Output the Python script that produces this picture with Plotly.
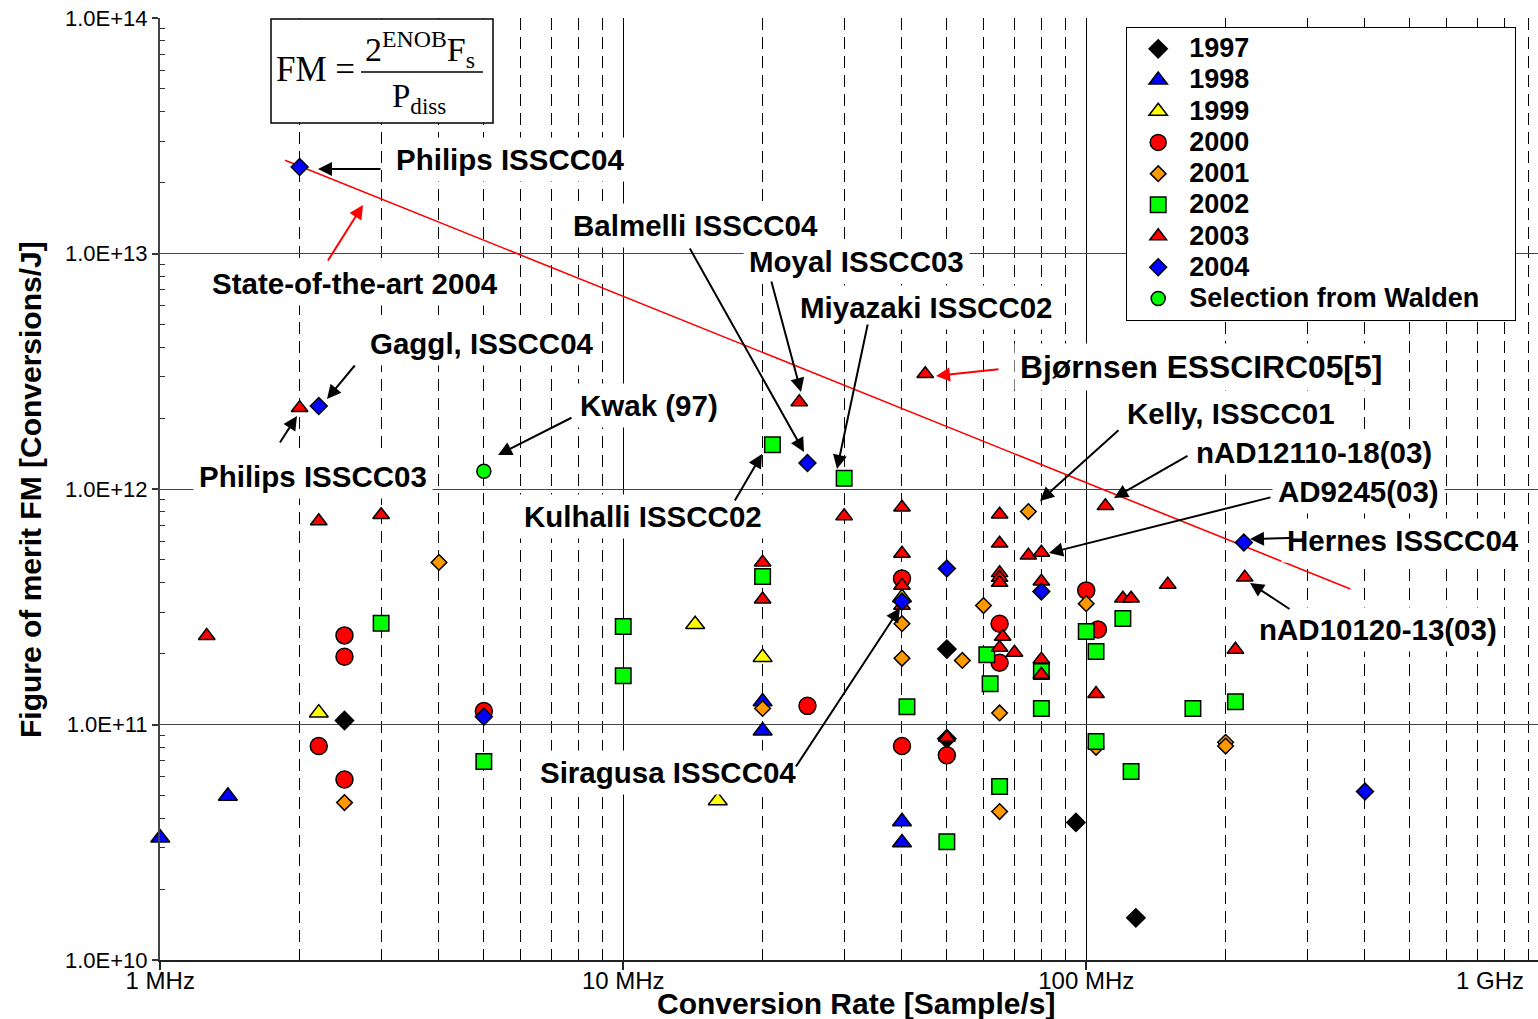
import plotly.graph_objects as go

# ------------------------------------------------------------------ data
# Conversion rate [Sample/s] and figure of merit FM [Conversions/J]
y1997_x = [2.5e6, 5.0e7, 5.0e7, 9.5e7, 1.28e8]
y1997_y = [1.04e11, 2.09e11, 8.7e10, 3.84e10, 1.51e10]

y1998_x = [1.0e6, 1.4e6, 2.0e7, 2.0e7, 4.0e7, 4.0e7]
y1998_y = [3.3e10, 4.97e10, 1.25e11, 9.4e10, 3.87e10, 3.15e10]

y1999_x = [2.2e6, 1.43e7, 1.6e7, 2.0e7, 4.0e7]
y1999_y = [1.12e11, 2.66e11, 4.75e10, 1.93e11, 3.46e11]

y2000_x = [2.2e6, 2.5e6, 2.5e6, 2.5e6, 5.0e6, 2.5e7, 4.0e7, 4.0e7, 5.0e7,
           6.5e7, 6.5e7, 1.0e8, 1.06e8]
y2000_y = [8.1e10, 2.39e11, 1.94e11, 5.84e10, 1.14e11, 1.2e11, 4.17e11, 8.1e10,
           7.4e10, 2.68e11, 1.83e11, 3.71e11, 2.53e11]

y2001_x = [2.5e6, 4.0e6, 2.0e7, 4.0e7, 4.0e7, 5.4e7, 6.0e7, 6.5e7, 6.5e7,
           7.5e7, 1.0e8, 1.05e8, 2.0e8, 2.0e8]
y2001_y = [4.66e10, 4.88e11, 1.17e11, 2.68e11, 1.91e11, 1.87e11, 3.2e11, 1.12e11,
           4.27e10, 8.02e11, 3.26e11, 8.0e10, 8.4e10, 8.1e10]

y2002_x = [3.0e6, 5.0e6, 1.0e7, 1.0e7, 2.0e7, 2.1e7, 3.0e7, 4.1e7, 5.0e7, 6.1e7,
           6.2e7, 6.5e7, 8.0e7, 8.0e7, 1.0e8, 1.05e8, 1.05e8, 1.2e8, 1.25e8,
           1.7e8, 2.1e8]
y2002_y = [2.69e11, 6.97e10, 2.61e11, 1.61e11, 4.25e11, 1.54e12, 1.11e12, 1.19e11,
           3.18e10, 1.98e11, 1.49e11, 5.45e10, 1.68e11, 1.17e11, 2.48e11, 2.04e11,
           8.47e10, 2.82e11, 6.31e10, 1.17e11, 1.25e11]

y2003_x = [1.26e6, 2.0e6, 2.2e6, 3.0e6, 2.0e7, 2.0e7, 2.4e7, 3.0e7, 4.0e7, 4.0e7,
           4.0e7, 4.0e7, 4.49e7, 5.0e7, 6.5e7, 6.5e7, 6.5e7, 6.5e7, 6.5e7, 6.6e7,
           6.5e7, 7.0e7, 7.5e7, 8.0e7, 8.0e7, 8.0e7, 8.0e7, 1.05e8, 1.1e8, 1.2e8,
           1.25e8, 1.5e8, 2.1e8, 2.2e8]
y2003_y = [2.38e11, 2.21e12, 7.31e11, 7.76e11, 4.88e11, 3.40e11, 2.34e12, 7.68e11,
           8.35e11, 5.32e11, 3.89e11, 3.2e11, 3.08e12, 8.8e10, 7.8e11, 5.87e11,
           4.4e11, 4.2e11, 4.0e11, 2.36e11, 2.12e11, 2.02e11, 5.22e11, 5.37e11,
           4.05e11, 1.89e11, 1.63e11, 1.35e11, 8.47e11, 3.43e11, 3.43e11, 3.93e11,
           2.08e11, 4.21e11]

y2004_x = [2.0e6, 2.2e6, 5.0e6, 2.5e7, 4.0e7, 5.0e7, 8.0e7, 2.19e8, 4.0e8]
y2004_y = [2.33e13, 2.25e12, 1.08e11, 1.29e12, 3.33e11, 4.6e11, 3.67e11, 5.93e11, 5.19e10]

walden_x = [5.0e6]
walden_y = [1.19e12]

sota_x = [1.86e6, 3.72e8]
sota_y = [2.49e13, 3.76e11]

x_tick_vals = [1e6, 1e7, 1e8]
x_tick_text = ["1 MHz", "10 MHz", "100 MHz"]
y_tick_vals = [1e10, 1e11, 1e12, 1e13, 1e14]
y_tick_text = ["1.0E+10", "1.0E+11", "1.0E+12", "1.0E+13", "1.0E+14"]

# ------------------------------------------------------------------ layout helpers
W, H = 1538, 1019
ML, MR, MT, MB = 160, 0, 18, 59
PW, PH = W - ML - MR, H - MT - MB
DECADE_PX = 463.0


def PX(px):
    return (px - ML) / PW


def PY(py):
    return (H - MB - py) / PH


FONT = "Liberation Sans, Arial, sans-serif"
SERIF = "Liberation Serif, Times New Roman, serif"

series = [
    ("1997", y1997_x, y1997_y, "diamond", 14, "#000000"),
    ("1998", y1998_x, y1998_y, "triangle-up", 16.5, "#0000FF"),
    ("1999", y1999_x, y1999_y, "triangle-up", 16.5, "#FFFF00"),
    ("2000", y2000_x, y2000_y, "circle", 17, "#FF0000"),
    ("2001", y2001_x, y2001_y, "diamond", 12, "#FF9900"),
    ("2002", y2002_x, y2002_y, "square", 15.5, "#00FF00"),
    ("2003", y2003_x, y2003_y, "triangle-up", 14.5, "#FF0000"),
    ("2004", y2004_x, y2004_y, "diamond", 13, "#0000FF"),
    ("Selection from Walden", walden_x, walden_y, "circle", 14, "#00FF00"),
]

fig = go.Figure()

fig.add_trace(go.Scatter(
    x=sota_x, y=sota_y, mode="lines", line=dict(color="#FF0000", width=1.6),
    showlegend=False, hoverinfo="skip"))

NBSP = "\u00a0"
for name, xs, ys, sym, size, col in series:
    label = name + (NBSP * 4 if name.startswith("Selection") else "")
    fig.add_trace(go.Scatter(
        x=xs, y=ys, mode="markers",
        name='<b><span style="font-size:27px">%s</span></b>' % label,
        cliponaxis=False,
        marker=dict(symbol=sym, size=size, color=col,
                    line=dict(color="#000000", width=1.5))))

minor_x = [d * 10 ** e for e in (6, 7, 8) for d in range(2, 10)]
minor_y = [d * 10 ** e for e in (10, 11, 12, 13) for d in range(2, 10)]

x_min_log = 5.9995
x_max_log = x_min_log + PW / DECADE_PX

fig.update_xaxes(
    type="log", range=[x_min_log, x_max_log],
    tickmode="array", tickvals=x_tick_vals, ticktext=x_tick_text,
    tickfont=dict(family=FONT, size=24, color="#000"),
    ticks="outside", ticklen=8, tickwidth=1.5, tickcolor="#222",
    ticklabelstandoff=-10,
    showline=True, linecolor="#222", linewidth=2,
    showgrid=True, gridcolor="#000", gridwidth=1,
    minor=dict(tickmode="array", tickvals=minor_x, showgrid=True,
               gridcolor="#000", gridwidth=1, griddash="12px,7px", ticks=""),
    zeroline=False,
)
fig.update_yaxes(
    type="log", range=[10, 14],
    tickmode="array", tickvals=y_tick_vals, ticktext=y_tick_text,
    tickfont=dict(family=FONT, size=22, color="#000"),
    ticks="outside", ticklen=6, tickwidth=1.5, tickcolor="#333",
    showline=True, linecolor="#444", linewidth=2,
    showgrid=True, gridcolor="#444", gridwidth=1,
    minor=dict(tickmode="array", tickvals=minor_y, ticks="inside", ticklen=5,
               tickwidth=1.2, tickcolor="#333", showgrid=False),
    zeroline=False,
)

annotations = []

# axis titles
annotations.append(dict(
    text="<b>Conversion Rate [Sample/s]</b>", xref="paper", yref="paper",
    x=PX(856), y=PY(1003), xanchor="center", yanchor="middle", showarrow=False,
    font=dict(family=FONT, size=30, color="#000")))
annotations.append(dict(
    text="<b>Figure of merit FM [Conversions/J]</b>", xref="paper", yref="paper",
    x=PX(30), y=PY(490), xanchor="center", yanchor="middle", showarrow=False,
    textangle=-90, font=dict(family=FONT, size=30, color="#000")))
annotations.append(dict(
    text="1 GHz", xref="paper", yref="paper", x=PX(1490), y=PY(980),
    xanchor="center", yanchor="middle", showarrow=False,
    font=dict(family=FONT, size=24, color="#000")))

# callout labels: text, center x px, center y px, font size
labels = [
    ("Philips ISSCC04", 510, 160, 29.5),
    ("State-of-the-art 2004", 355, 283, 29.5),
    ("Balmelli ISSCC04", 695, 226, 29.5),
    ("Moyal ISSCC03", 856, 261, 29.5),
    ("Miyazaki ISSCC02", 926, 307, 29.5),
    ("Gaggl, ISSCC04", 482, 343, 29.5),
    ("Bjørnsen ESSCIRC05[5]", 1201, 367, 31.8),
    ("Kwak (97)", 649, 405, 29.5),
    ("Kelly, ISSCC01", 1231, 413, 29.5),
    ("nAD12110-18(03)", 1314, 452, 29.5),
    ("Philips ISSCC03", 313, 476, 29.5),
    ("AD9245(03)", 1358, 491, 29.5),
    ("Kulhalli ISSCC02", 643, 516, 29.5),
    ("Hernes ISSCC04", 1403, 540, 29.5),
    ("nAD10120-13(03)", 1378, 629, 29.5),
    ("Siragusa ISSCC04", 668, 772, 29.5),
]
for t, cx, cy, fs in labels:
    annotations.append(dict(
        text="<b>%s</b>" % t, xref="paper", yref="paper", x=PX(cx), y=PY(cy),
        xanchor="center", yanchor="middle", showarrow=False, bgcolor="#FFFFFF",
        borderpad=5, font=dict(family=FONT, size=fs, color="#000")))

# arrows: tail (px), head (px), colour
arrows = [
    ((382, 169), (318, 169), "#000"),
    ((327, 262), (363, 205), "#FF0000"),
    ((356, 364), (327, 399), "#000"),
    ((279, 444), (297, 416), "#000"),
    ((573, 417), (498, 455), "#000"),
    ((734, 502), (762, 454), "#000"),
    ((689, 247), (804, 452), "#000"),
    ((771, 280), (801, 392), "#000"),
    ((868, 323), (837, 469), "#000"),
    ((1000, 369), (936, 376), "#FF0000"),
    ((1120, 429), (1040, 501), "#000"),
    ((1189, 455), (1114, 498), "#000"),
    ((1272, 497), (1049, 553), "#000"),
    ((1291, 538), (1250, 539), "#000"),
    ((1291, 610), (1250, 583), "#000"),
    ((795, 768), (900, 608), "#000"),
]
for (tx, ty), (hx, hy), col in arrows:
    annotations.append(dict(
        text="", xref="paper", yref="paper", x=PX(hx), y=PY(hy),
        ax=tx - hx, ay=ty - hy, axref="pixel", ayref="pixel",
        showarrow=True, arrowhead=2, arrowsize=1.4, arrowwidth=2,
        arrowcolor=col, standoff=0))

# formula box content
annotations.append(dict(
    text="FM =", xref="paper", yref="paper", x=PX(315), y=PY(70),
    xanchor="center", yanchor="middle", showarrow=False,
    font=dict(family=SERIF, size=35, color="#000")))
annotations.append(dict(
    text="2<sup>ENOB</sup>F<sub>s</sub>", xref="paper", yref="paper",
    x=PX(420), y=PY(50), xanchor="center", yanchor="middle", showarrow=False,
    font=dict(family=SERIF, size=34, color="#000")))
annotations.append(dict(
    text="P<sub>diss</sub>", xref="paper", yref="paper",
    x=PX(419), y=PY(99), xanchor="center", yanchor="middle", showarrow=False,
    font=dict(family=SERIF, size=33, color="#000")))

shapes = [
    dict(type="rect", xref="paper", yref="paper", x0=PX(271), x1=PX(493),
         y0=PY(123), y1=PY(19), line=dict(color="#000", width=1.5),
         fillcolor="#FFFFFF", layer="above"),
    dict(type="line", xref="paper", yref="paper", x0=PX(361), x1=PX(483),
         y0=PY(72), y1=PY(72), line=dict(color="#000", width=1.5), layer="above"),
]

fig.update_layout(
    width=W, height=H,
    margin=dict(l=ML, r=MR, t=MT, b=MB, pad=0),
    paper_bgcolor="#FFFFFF", plot_bgcolor="#FFFFFF",
    font=dict(family=FONT, color="#000"),
    showlegend=True,
    legend=dict(
        x=PX(1126), y=PY(27), xanchor="left", yanchor="top",
        bgcolor="#FFFFFF", bordercolor="#000", borderwidth=1.2,
        font=dict(family=FONT, size=21.7, color="#000"),
        itemwidth=52,
        tracegroupgap=0,
    ),
    annotations=annotations,
    shapes=shapes,
)

fig.write_html("out.html")
